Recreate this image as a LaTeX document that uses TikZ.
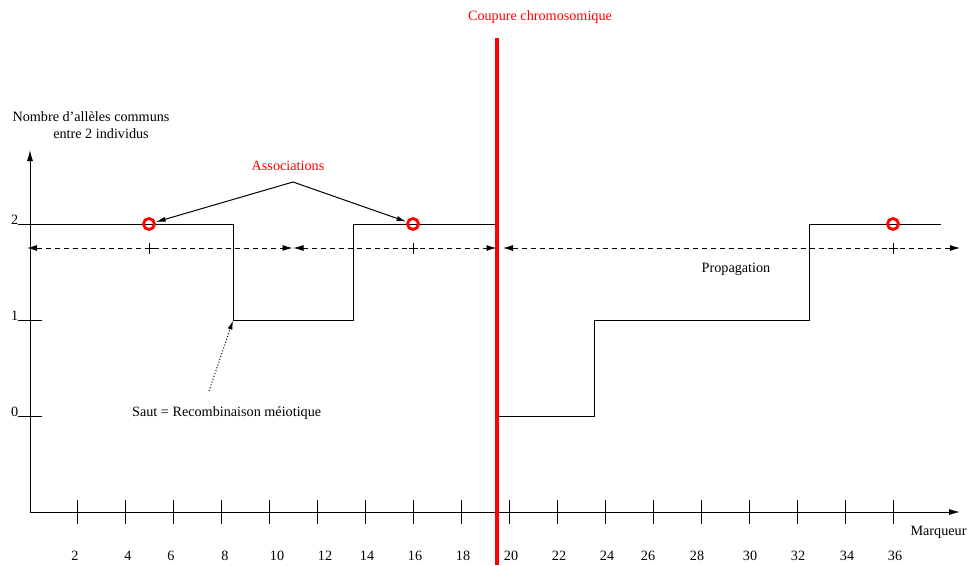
\documentclass[tikz,border=0pt]{standalone}
\usepackage{fontspec}
\setmainfont{Liberation Serif}
\usetikzlibrary{arrows.meta}
\begin{document}
\begin{tikzpicture}[x=1pt,y=-1pt,
  txt/.style={font=\fontsize{14.2}{17}\selectfont, inner sep=0pt},
  redtxt/.style={txt, text=red},
  axisline/.style={line width=1pt, -{Latex[length=11pt,width=6pt]}},
  stepline/.style={line width=1pt},
  tickmark/.style={line width=1pt},
  assoc/.style={circle, draw=red, line width=2.8pt, minimum size=11pt, inner sep=0pt},
  propline/.style={line width=0.9pt, dash pattern=on 5pt off 4pt, {Latex[length=10pt,width=6pt]}-{Latex[length=10pt,width=6pt]}},
  plusmark/.style={line width=0.9pt},
  pointer/.style={line width=1pt, -{Latex[length=10pt,width=5pt]}},
  jump/.style={line width=1pt, dotted, -{Latex[length=9pt,width=5pt]}},
  cut/.style={draw=red, line width=3.6pt}
]
\useasboundingbox (0,0) rectangle (969,565);

% axes
\coordinate (O) at (30,512);
\coordinate (ytop) at (30,150);
\coordinate (xend) at (960,512);
\draw[axisline] (O) -- (ytop);
\draw[axisline] (O) -- (xend);

% marker ticks and labels along the horizontal axis
\foreach \i in {1,...,18} {
  \draw[tickmark] ({29.3+48*\i},500) -- ({29.3+48*\i},524);
}
\foreach \x/\l in {75/2,128/4,171/6,225/8,277/10,325/12,367/14,415/16,463/18,
                   511/20,559/22,607/24,648/26,697/28,750/30,798/32,847/34,895/36} {
  \node[txt, anchor=base] (m\l) at (\x,560) {\l};
}
\node[txt, anchor=base] (xlabel) at (938.5,535) {Marqueur};

% level ticks on the vertical axis
\foreach \y/\l in {224/2,320/1,416/0} {
  \draw[tickmark] (18,\y) -- (42,\y);
  \node[txt, anchor=base east] (lv\l) at (18.5,\y+0.5) {\l};
}
\node[txt, anchor=base] (ytitle1) at (91,121.5) {Nombre d’allèles communs};
\node[txt, anchor=base] (ytitle2) at (101,138.3) {entre 2 individus};

% shared alleles along the chromosome
\draw[stepline] (18,224) -- (233,224) -- (233,320) -- (353,320) -- (353,224) -- (497,224);
\draw[stepline] (497,416) -- (594,416) -- (594,320) -- (809,320) -- (809,224) -- (941,224);

% propagation ranges
\coordinate (pa1) at (27,248);   \coordinate (pa2) at (292.5,248);
\coordinate (pb1) at (293.5,248); \coordinate (pb2) at (496.5,248);
\coordinate (pc1) at (503,248);  \coordinate (pc2) at (960,248);
\draw[propline] (pa1) -- (pa2);
\draw[propline] (pb1) -- (pb2);
\draw[propline] (pc1) -- (pc2);
\foreach \x in {149,413,893} {
  \draw[plusmark] (\x-4.5,248) -- (\x+4.5,248);
  \draw[plusmark] (\x,242.5) -- (\x,254);
}
\node[txt, anchor=base] (prop) at (736,272.3) {Propagation};

% associated markers
\node[assoc] (c1) at (149,224) {};
\node[assoc] (c2) at (413,224) {};
\node[assoc] (c3) at (893,224) {};
\node[redtxt, anchor=base] (assoclabel) at (288,170) {Associations};
\coordinate (apex) at (293,182);
\draw[pointer] (apex) -- (c1);
\draw[pointer] (apex) -- (c2);

% recombination jump
\node[txt, anchor=base] (saut) at (226.7,416.7) {Saut = Recombinaison méiotique};
\coordinate (jstart) at (209,391);
\coordinate (jcorner) at (233,320.5);
\draw[jump] (jstart) -- (jcorner);

% chromosome break
\coordinate (cutTop) at (497,38);
\coordinate (cutBot) at (497,565);
\draw[cut] (cutTop) -- (cutBot);
\node[redtxt, anchor=base] (cutlabel) at (540,20.5) {Coupure chromosomique};
\end{tikzpicture}
\end{document}
